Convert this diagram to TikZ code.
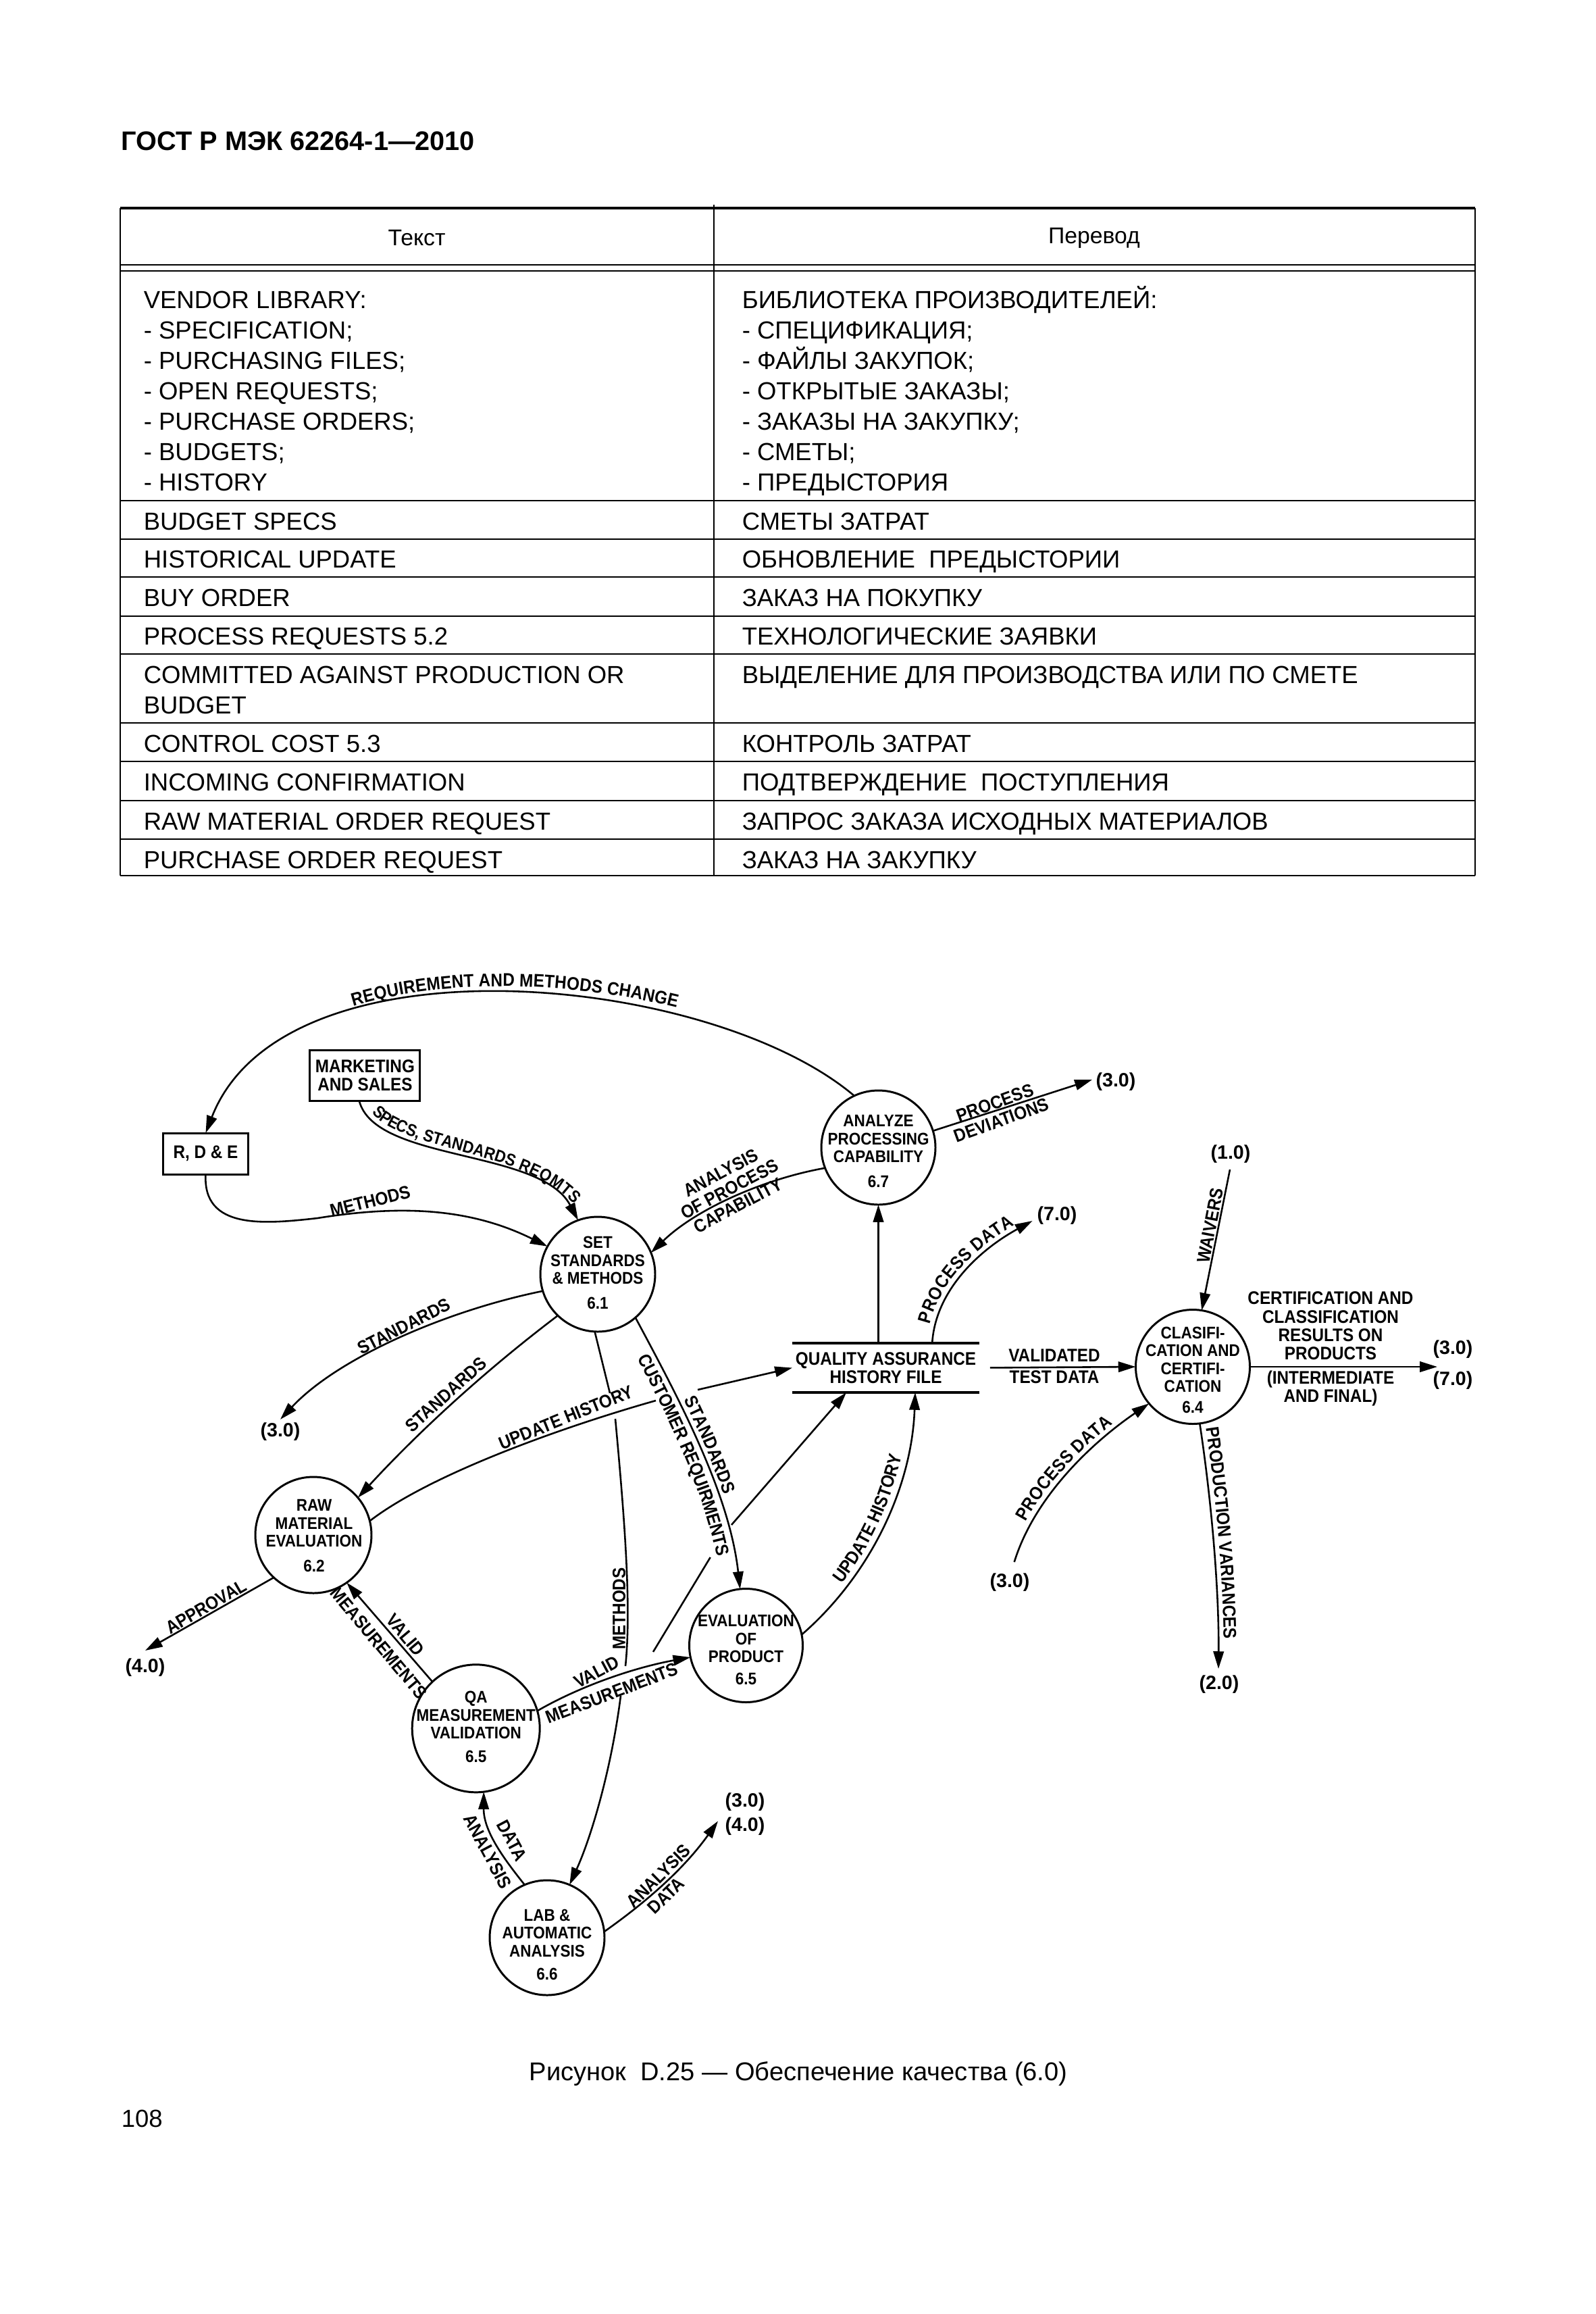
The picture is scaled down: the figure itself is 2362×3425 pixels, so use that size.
\documentclass[tikz,border=0pt]{standalone}
\usepackage{fontspec}
\setmainfont{Liberation Sans}
\newfontfamily\dgfam{Liberation Sans}[FakeStretch=0.9]
\usetikzlibrary{arrows.meta,decorations.text}
\newcommand\dgn{\dgfam\bfseries\fontsize{6.3}{6.7}\selectfont}
\newcommand\dgl{\dgfam\bfseries\fontsize{6.8}{6.9}\selectfont}
\newcommand\dgs{\dgfam\bfseries\fontsize{6.3}{6.9}\selectfont}
\newcommand\dgr{\bfseries\fontsize{7.2}{8}\selectfont}
\newcommand\tbf{\fontsize{9.2}{11.3}\selectfont}
\newcommand\PXU{0.25204pt}
\begin{document}
\begin{tikzpicture}[x=0.25204pt, y=-0.25204pt,
  flow/.style={line width=0.65pt, -{Triangle[length=6.5pt,width=3.9pt]}},
  proc/.style={circle, draw, line width=0.75pt, inner sep=0pt, outer sep=0pt},
  ntext/.style={font=\dgn, align=center, inner sep=0pt},
  ext/.style={rectangle, draw, line width=0.75pt, inner sep=0pt, outer sep=0pt, align=center, font=\dgl},
  lab/.style={font=\dgl, align=center, inner sep=0pt},
  ref/.style={font=\dgr, inner sep=1pt},
  tcell/.style={anchor=base west, inner sep=0pt, font=\tbf},
  rule/.style={line width=0.5pt},
]
\fill[white] (0,0) rectangle (2362,3425);
\useasboundingbox (0,0) rectangle (2362,3425);

% ---------- title ----------
\node[anchor=base west, inner sep=0pt, font=\bfseries\fontsize{10}{12}\selectfont] (title) at (179,222) {ГОСТ Р МЭК 62264-1—2010};

% ---------- table ----------
\draw[line width=0.8pt] (178,308) -- (2184,308);
\draw[rule] (178,308) -- (178,1296) (2184,308) -- (2184,1296) (1057,303) -- (1057,1296);
\draw[rule] (178,392) -- (2184,392) (178,400.5) -- (2184,400.5);
\foreach \yy in {741,797.6,854,911.5,968.4,1070,1127,1185.4,1242.3,1296}
  \draw[rule] (178,\yy) -- (2184,\yy);

\node[inner sep=0pt, font=\fontsize{8.5}{10}\selectfont] (h1) at (617,352) {Текст};
\node[inner sep=0pt, font=\fontsize{8.5}{10}\selectfont] (h2) at (1620,352) {Перевод};

\foreach \t [count=\i] in {VENDOR LIBRARY:,- SPECIFICATION;,- PURCHASING FILES;,- OPEN REQUESTS;,- PURCHASE ORDERS;,- BUDGETS;,- HISTORY}
  \node[tcell] (vl\i) at (212,{456+45*(\i-1)}) {\t};
\foreach \t [count=\i] in {БИБЛИОТЕКА ПРОИЗВОДИТЕЛЕЙ:,- СПЕЦИФИКАЦИЯ;,- ФАЙЛЫ ЗАКУПОК;,- ОТКРЫТЫЕ ЗАКАЗЫ;,- ЗАКАЗЫ НА ЗАКУПКУ;,- СМЕТЫ;,- ПРЕДЫСТОРИЯ}
  \node[tcell] (vr\i) at (1098,{456+45*(\i-1)}) {\t};

\node[tcell] (a1) at (212,784) {BUDGET SPECS};
\node[tcell] (b1) at (1098,784) {СМЕТЫ ЗАТРАТ};
\node[tcell] (a2) at (212,840.6) {HISTORICAL UPDATE};
\node[tcell] (b2) at (1098,840.6) {ОБНОВЛЕНИЕ\ \ ПРЕДЫСТОРИИ};
\node[tcell] (a3) at (212,897) {BUY ORDER};
\node[tcell] (b3) at (1098,897) {ЗАКАЗ НА ПОКУПКУ};
\node[tcell] (a4) at (212,954.5) {PROCESS REQUESTS 5.2};
\node[tcell] (b4) at (1098,954.5) {ТЕХНОЛОГИЧЕСКИЕ ЗАЯВКИ};
\node[tcell] (a5) at (212,1011.4) {COMMITTED AGAINST PRODUCTION OR};
\node[tcell] (a5b) at (212,1056.4) {BUDGET};
\node[tcell] (b5) at (1098,1011.4) {ВЫДЕЛЕНИЕ ДЛЯ ПРОИЗВОДСТВА ИЛИ ПО СМЕТЕ};
\node[tcell] (a6) at (212,1113) {CONTROL COST 5.3};
\node[tcell] (b6) at (1098,1113) {КОНТРОЛЬ ЗАТРАТ};
\node[tcell] (a7) at (212,1170) {INCOMING CONFIRMATION};
\node[tcell] (b7) at (1098,1170) {ПОДТВЕРЖДЕНИЕ\ \ ПОСТУПЛЕНИЯ};
\node[tcell] (a8) at (212,1228.4) {RAW MATERIAL ORDER REQUEST};
\node[tcell] (b8) at (1098,1228.4) {ЗАПРОС ЗАКАЗА ИСХОДНЫХ МАТЕРИАЛОВ};
\node[tcell] (a9) at (212,1285.3) {PURCHASE ORDER REQUEST};
\node[tcell] (b9) at (1098,1285.3) {ЗАКАЗ НА ЗАКУПКУ};

% ---------- diagram nodes ----------
\node[proc, minimum size=170*\PXU] (c61) at (885,1886) {};
\node[proc, minimum size=169*\PXU] (c67) at (1300.5,1698.5) {};
\node[proc, minimum size=169*\PXU] (c64) at (1766,2023) {};
\node[proc, minimum size=172*\PXU] (c62) at (464,2272) {};
\node[proc, minimum size=168*\PXU] (c65e) at (1104.5,2435.5) {};
\node[proc, minimum size=189*\PXU] (c65q) at (704.7,2558.3) {};
\node[proc, minimum size=170*\PXU] (c66) at (810,2868) {};

\node[ntext] (t61) at (885,1884) {SET\\STANDARDS\\\& METHODS\\[2.5pt]6.1};
\node[ntext] (t67) at (1300.5,1704) {ANALYZE\\PROCESSING\\CAPABILITY\\[2.5pt]6.7};
\node[ntext] (t64) at (1766,2027.7) {CLASIFI-\\CATION AND\\CERTIFI-\\CATION\\[1pt]6.4};
\node[ntext] (t62) at (465,2273) {RAW\\MATERIAL\\EVALUATION\\[2.5pt]6.2};
\node[ntext] (t65e) at (1104.5,2442) {EVALUATION\\OF\\PRODUCT\\[1.5pt]6.5};
\node[ntext] (t65q) at (704.7,2556) {QA\\MEASUREMENT\\VALIDATION\\[2pt]6.5};
\node[ntext] (t66) at (810,2878.5) {LAB \&\\AUTOMATIC\\ANALYSIS\\[2pt]6.6};

\node[ext, minimum width=126*\PXU, minimum height=61*\PXU] (rde) at (304.5,1707.5) {R, D \& E};
\node[ext, minimum width=163*\PXU, minimum height=74.5*\PXU] (mkt) at (540.4,1592) {MARKETING\\AND SALES};

\node[lab, minimum width=277*\PXU, minimum height=73*\PXU, outer sep=0pt] (qaf) at (1311.5,2024.5) {QUALITY ASSURANCE\\HISTORY FILE};
\draw[line width=0.85pt] (qaf.north west) -- (qaf.north east) (qaf.south west) -- (qaf.south east);

% external references
\node[ref] (l30a) at (415,2119) {(3.0)};
\node[ref] (l30b) at (1652,1601) {(3.0)};
\node[ref] (l70a) at (1565,1799) {(7.0)};
\node[ref] (l10) at (1822,1708) {(1.0)};
\node[ref] (l30c) at (1495,2342) {(3.0)};
\node[ref] (l30d) at (2151,1997) {(3.0)};
\node[ref] (l70b) at (2151,2043) {(7.0)};
\node[ref] (l20) at (1805,2493) {(2.0)};
\node[ref] (l40a) at (215,2468) {(4.0)};
\node[ref] (l30e) at (1103,2667) {(3.0)};
\node[ref] (l40b) at (1103,2703) {(4.0)};

% free ends and via points
\coordinate (e30b) at (1617,1598);
\coordinate (e70a) at (1528.6,1807);
\coordinate (e10) at (1821,1731);
\coordinate (e30c) at (1501.7,2312);
\coordinate (eout) at (2128,2023);
\coordinate (e20) at (1804,2470);
\coordinate (e40a) at (215,2443);
\coordinate (e34) at (1063,2695.4);
\coordinate (v1) at (470,1803);
\coordinate (u1) at (971,2073);
\coordinate (u2) at (1033,2057);
\coordinate (m1) at (903,2062);
\coordinate (m2) at (911,2100);
\coordinate (m3) at (926,2466);
\coordinate (m4) at (919,2510);
\coordinate (b1) at (967,2445);
\coordinate (b2) at (1051.7,2305);
\coordinate (b3) at (1083,2257);

% ---------- connectors ----------
\draw[flow] (c67.115) .. controls (1050,1440) and (420,1380) .. (rde.north);
\path[decorate, decoration={text along path, text align=center, raise=2.5pt, text={|\dgl|REQUIREMENT AND METHODS CHANGE}}] (rde.north) .. controls (420,1380) and (1050,1440) .. (c67.115);

\draw[flow] (mkt.257) .. controls (555,1720) and (800,1700) .. (c61.110);
\path[decorate, decoration={text along path, text align={left indent=7pt}, raise=2pt, text={|\dgs|SPECS, STANDARDS REQMTS}}] (mkt.257) .. controls (555,1720) and (800,1700) .. (c61.110);

\draw[flow] (rde.south) .. controls (300,1820) and (390,1812) .. (v1) .. controls (600,1782) and (700,1790) .. (c61.151);
\node[lab, rotate=14] (lbm1) at (548,1778) {METHODS};

\draw[flow] (c67.201) .. controls (1130,1745) and (1030,1790) .. (c61.22);
\node[lab, rotate=28] (lbanal) at (1080,1760) {ANALYSIS\\OF PROCESS\\CAPABILITY};

\draw[flow] (c67.17) -- (e30b);
\node[lab, rotate=20] (lbdev) at (1478,1645) {PROCESS\\DEVIATIONS};

\draw[flow] (c67.south |- qaf.north) -- (c67.south);

\draw[flow] (qaf.28) .. controls (1385,1910) and (1450,1850) .. (e70a);
\path[decorate, decoration={text along path, text align=center, raise=2pt, text={|\dgl|PROCESS DATA}}] (qaf.28) .. controls (1385,1910) and (1450,1850) .. (e70a);

\draw[flow] (c61.197) .. controls (660,1940) and (500,2010) .. (l30a.north);
\node[lab, rotate=27] (lbst1) at (598,1963) {STANDARDS};

\draw[flow] (c61.226) .. controls (719,2028) and (620.6,2118.2) .. (c62.40);
\node[lab, rotate=42] (lbst2) at (660,2064) {STANDARDS};

\draw[flow] (c61.267) -- (m1) (m2) .. controls (925,2250) and (935,2380) .. (m3) (m4) .. controls (905,2620) and (875,2720) .. (c66.67);
\node[lab, rotate=90] (lbm2) at (916.7,2381) {METHODS};

\draw[flow] (c61.311) .. controls (1005,2070) and (1080,2210) .. (c65e.96);
\path[decorate, decoration={text along path, text align=center, raise=2pt, text={|\dgl|STANDARDS}}] (c61.311) .. controls (1005,2070) and (1080,2210) .. (c65e.96);
\path[decorate, decoration={text along path, text align=center, raise=-6.6pt, text={|\dgl|CUSTOMER REQUIRMENTS}}] (c61.311) .. controls (1005,2070) and (1080,2210) .. (c65e.96);

\draw[flow] (c62.14) .. controls (640,2180) and (840,2110) .. (u1) (u2) -- (qaf.west);
\node[lab, rotate=22] (lbuh1) at (838,2098) {UPDATE HISTORY};

\draw[flow] (b1) -- (b2) (b3) -- (qaf.212);

\draw[flow] (c65e.11) .. controls (1290,2330) and (1350,2200) .. (qaf.320);
\path[decorate, decoration={text along path, text align=center, raise=2pt, text={|\dgl|UPDATE HISTORY}}] (c65e.11) .. controls (1290,2330) and (1350,2200) .. (qaf.320);

\draw[flow, shorten <=4pt] (qaf.east) -- (c64.west);
\node[lab] (lbvt1) at (1561,2006) {VALIDATED};
\node[lab] (lbvt2) at (1561,2038) {TEST DATA};

\draw[flow] (e10) -- (c64.81);
\node[lab, rotate=79] (lbw) at (1792,1814) {WAIVERS};

\draw[flow] (e30c) .. controls (1530,2220) and (1610,2140) .. (c64.220);
\path[decorate, decoration={text along path, text align=center, raise=2pt, text={|\dgl|PROCESS DATA}}] (e30c) .. controls (1530,2220) and (1610,2140) .. (c64.220);

\draw[flow] (c64.east) -- (eout);
\node[lab] (lbcert) at (1970,1962.5) {CERTIFICATION AND\\CLASSIFICATION\\RESULTS ON\\PRODUCTS};
\node[lab] (lbint) at (1970,2055) {(INTERMEDIATE\\AND FINAL)};

\draw[flow] (c64.277) .. controls (1795,2230) and (1805,2360) .. (e20);
\path[decorate, decoration={text along path, text align={left indent=2pt}, raise=2pt, text={|\dgl|PRODUCTION VARIANCES}}] (c64.277) .. controls (1795,2230) and (1805,2360) .. (e20);

\draw[flow] (c62.227) -- (e40a);
\node[lab, rotate=30] (lbap) at (305,2378) {APPROVAL};

\draw[flow] (c65q.133) -- (c62.305);
\node[lab, rotate=-50] (lbv1) at (600,2420) {VALID};
\node[lab, rotate=-50] (lbms1) at (561,2432) {MEASUREMENTS};

\draw[flow] (c65q.16) .. controls (860,2495) and (940,2468) .. (c65e.192);
\node[lab, rotate=28] (lbv2) at (883,2475) {VALID};
\node[lab, rotate=21] (lbms2) at (906,2506) {MEASUREMENTS};

\draw[flow] (c66.113) .. controls (745,2750) and (716,2710) .. (c65q.277);
\node[lab, rotate=-62] (lbd1) at (758,2724) {DATA};
\node[lab, rotate=-62] (lba1) at (722,2740) {ANALYSIS};

\draw[flow] (c66.6) .. controls (950,2820) and (1010,2770) .. (e34);
\node[lab, rotate=44.6] (lba2) at (975,2777) {ANALYSIS};
\node[lab, rotate=44] (lbd2) at (986,2806) {DATA};

% ---------- caption ----------
\node[anchor=base, inner sep=0pt, font=\fontsize{9.6}{11.5}\selectfont] (cap) at (1182,3079) {Рисунок\ \ D.25 — Обеспечение качества (6.0)};
\node[anchor=base west, inner sep=0pt, font=\tbf] (pg) at (179,3148) {108};
\end{tikzpicture}
\end{document}
